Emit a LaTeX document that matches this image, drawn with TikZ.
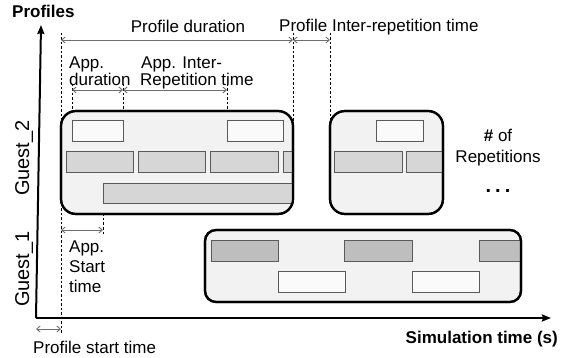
\documentclass[tikz,border=0pt]{standalone}
\usepackage{fontspec}
\setmainfont{Liberation Sans}
\usetikzlibrary{arrows.meta}
\definecolor{boxfill}{HTML}{F2F2F2}
\definecolor{whitefill}{HTML}{FAFAFA}
\definecolor{lightfill}{HTML}{D6D6D6}
\definecolor{darkfill}{HTML}{BEBEBE}
\definecolor{rectline}{HTML}{5A5A5A}
\definecolor{measgray}{HTML}{6E6E6E}
\begin{document}
\begin{tikzpicture}[x=1pt,y=-1pt,
  lbl/.style={font=\fontsize{17}{19}\selectfont, inner sep=0pt},
  blbl/.style={font=\fontsize{17}{19}\selectfont\bfseries, inner sep=0pt},
  glbl/.style={font=\fontsize{20}{22}\selectfont, inner sep=0pt},
  profbox/.style={draw=black, line width=2.2pt, fill=boxfill},
  apprect/.style={draw=rectline, line width=1pt},
  wrect/.style={apprect, fill=whitefill},
  lrect/.style={apprect, fill=lightfill},
  drect/.style={apprect, fill=darkfill},
  guide/.style={draw=black, line width=0.7pt, dash pattern=on 2.5pt off 2pt},
  meas/.style={draw=measgray, line width=0.9pt,
    {Straight Barb[length=3.5pt,width=6pt]}-{Straight Barb[length=3.5pt,width=6pt]}},
  axis/.style={draw=black, line width=2pt, -{Stealth[length=9pt,width=7pt,inset=1pt]}}
]
\useasboundingbox (0,0) rectangle (562,358);

% named coordinates
\coordinate (ps0) at (36,329);   \coordinate (ps1) at (61,329);
\coordinate (pd0) at (61,40);    \coordinate (pd1) at (293,40);
\coordinate (pr1) at (330,40);
\coordinate (ad0) at (72,90);    \coordinate (ad1) at (123,90);
\coordinate (ai1) at (227,90);
\coordinate (as0) at (61,230);   \coordinate (as1) at (103,230);
\coordinate (origin) at (36,318);
\coordinate (ytop) at (41,25);
\coordinate (xend) at (551,318);

% guide lines
\draw[guide] (61,33) -- (61,334);
\draw[guide] (293,33) -- (293,125);
\draw[guide] (330,33) -- (330,125);
\draw[guide] (72,84) -- (72,121);
\draw[guide] (123,84) -- (123,121);
\draw[guide] (227,84) -- (227,121);
\draw[guide] (103,200) -- (103,234);

% profile boxes
\path[profbox, rounded corners=15pt] (61,111) rectangle (293,214);
\path[profbox, rounded corners=15pt] (330,111) rectangle (443,214);
\path[profbox, rounded corners=11pt] (205,230) rectangle (521,302);

% box 1 contents
\begin{scope}
  \clip[rounded corners=15pt] (61,111) rectangle (293,214);
  \draw[wrect] (72,121) rectangle (123,142);
  \draw[wrect] (227,121) rectangle (283,142);
  \draw[lrect] (66,152) rectangle (133,173);
  \draw[lrect] (138,152) rectangle (205,173);
  \draw[lrect] (210,152) rectangle (278,173);
  \draw[lrect] (283,152) rectangle (300,173);
  \draw[lrect] (103,184) rectangle (300,204);
\end{scope}
% box 2 contents
\begin{scope}
  \clip[rounded corners=15pt] (330,111) rectangle (443,214);
  \draw[wrect] (376,121) rectangle (423,142);
  \draw[lrect] (334,152) rectangle (402,173);
  \draw[lrect] (406,152) rectangle (450,173);
\end{scope}
% guest 1 contents
\begin{scope}
  \clip[rounded corners=11pt] (205,230) rectangle (521,302);
  \draw[drect] (211,240) rectangle (278,261);
  \draw[drect] (344,240) rectangle (412,261);
  \draw[drect] (479,240) rectangle (530,261);
  \draw[wrect] (278,271) rectangle (345,292);
  \draw[wrect] (412,271) rectangle (479,292);
\end{scope}
% redraw borders on top
\draw[draw=black, line width=2.2pt, rounded corners=15pt] (61,111) rectangle (293,214);
\draw[draw=black, line width=2.2pt, rounded corners=15pt] (330,111) rectangle (443,214);
\draw[draw=black, line width=2.2pt, rounded corners=11pt] (205,230) rectangle (521,302);

% measurement arrows
\draw[meas] (ps0) -- (ps1);
\draw[meas] (pd0) -- (pd1);
\draw[meas] (pd1) -- (pr1);
\draw[meas] (ad0) -- (ad1);
\draw[meas] (ad1) -- (ai1);
\draw[meas] (as0) -- (as1);

% axes
\draw[axis] (origin) -- (ytop);
\draw[axis] (origin) -- (xend);

% labels
\node[blbl, anchor=base west] (tprof) at (12,18) {Profiles};
\node[lbl, anchor=base] (tpd) at (188,33) {Profile duration};
\node[lbl, anchor=base west] (tpir) at (279,32) {Profile Inter-repetition time};
\node[lbl, anchor=base west] (tad1) at (69,69) {App.};
\node[lbl, anchor=base west] (tad2) at (69,86) {duration};
\node[lbl, anchor=base west] (tai1) at (141,69) {App. Inter-};
\node[lbl, anchor=base west] (tai2) at (140,86) {Repetition time};
\node[lbl, anchor=base] (trep1) at (498,142) {\textbf{\#} of};
\node[lbl, anchor=base] (trep2) at (498,163) {Repetitions};
\node[font=\fontsize{20}{22}\selectfont\bfseries, inner sep=0pt, anchor=base] (tdots) at (498,193) {.\hspace{4pt}.\hspace{4pt}.};
\node[lbl, anchor=base west] (tas1) at (69,252) {App.};
\node[lbl, anchor=base west] (tas2) at (69,272) {Start};
\node[lbl, anchor=base west] (tas3) at (69,292) {time};
\node[glbl, anchor=base, rotate=90] (tg2) at (29,158) {Guest\_2};
\node[glbl, anchor=base, rotate=90] (tg1) at (29,269) {Guest\_1};
\node[blbl, anchor=base east] (tsim) at (558,343) {Simulation time (s)};
\node[lbl, anchor=base west] (tpst) at (33,353) {Profile start time};
\end{tikzpicture}
\end{document}
